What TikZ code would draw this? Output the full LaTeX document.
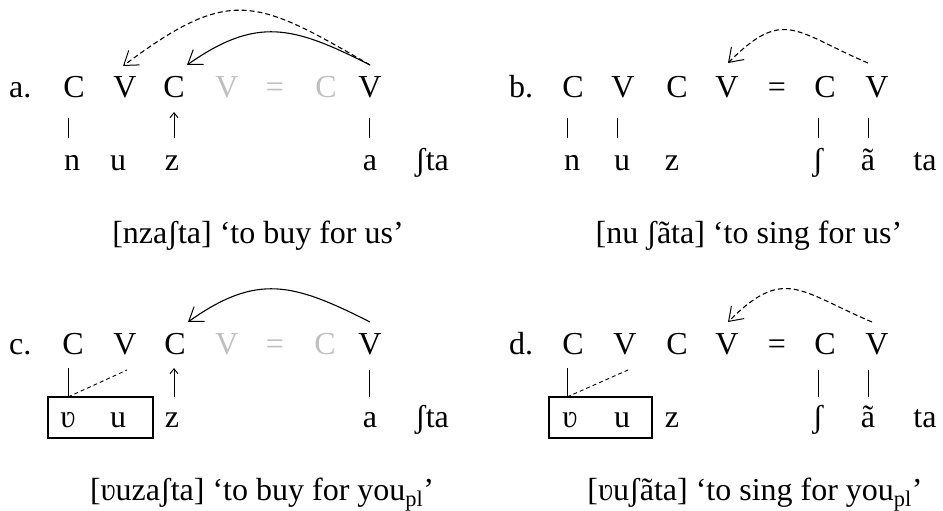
\documentclass[tikz,border=0pt]{standalone}
\usepackage{fontspec}
\setmainfont{Liberation Serif}
\usetikzlibrary{arrows.meta}
\definecolor{faint}{gray}{0.75}
\tikzset{
  seg/.style={anchor=base, inner sep=0pt, font=\fontsize{32}{38}\selectfont},
  lbl/.style={anchor=base west, inner sep=0pt, font=\fontsize{32}{38}\selectfont},
  glosstext/.style={anchor=base, inner sep=0pt, font=\fontsize{32}{38}\selectfont},
  ghost/.style={seg, text=faint},
  assoc/.style={line width=0.9pt},
  delink/.style={line width=0.9pt, dash pattern=on 4pt off 3pt},
  govern/.style={line width=1.1pt, -{Straight Barb[length=13pt,width=18pt,line width=1pt]}},
  licen/.style={line width=1.1pt, dash pattern=on 5pt off 3pt, -{Straight Barb[length=13pt,width=18pt,line width=1pt]}},
  uparr/.style={line width=0.9pt, -{Straight Barb[length=5pt,width=8pt,line width=0.9pt]}},
  morph/.style={draw, line width=1.6pt}
}
\begin{document}
\begin{tikzpicture}[x=1pt,y=-1pt]
\useasboundingbox (0,0) rectangle (943,511);

% ---------------- panel a ----------------
\node[lbl] (la) at (9,97) {a.};
\node[seg] (a1) at (74,97) {C};
\node[seg] (a2) at (125,97) {V};
\node[seg] (a3) at (174,97) {C};
\node[ghost] (a4) at (227,97) {V};
\node[ghost] (a5) at (275,97) {=};
\node[ghost] (a6) at (326,97) {C};
\node[seg] (a7) at (370,97) {V};
\node[seg] (an) at (72,170) {n};
\node[seg] (au) at (118,170) {u};
\node[seg] (az) at (172,170) {z};
\node[seg] (aa) at (370,170) {a};
\node[seg] (ash) at (432,170) {ʃta};
\coordinate (a1b) at (68,118); \coordinate (a1d) at (68,138);
\coordinate (a3b) at (174,112); \coordinate (a3d) at (174,138);
\coordinate (a7b) at (369,118); \coordinate (a7d) at (369,138);
\draw[assoc] (a1b) -- (a1d);
\draw[uparr] (a3d) -- (a3b);
\draw[assoc] (a7b) -- (a7d);
\coordinate (a7t) at (370,65);
\coordinate (a2t) at (123,66);
\coordinate (a3t) at (187,65);
\draw[licen] (a7t) .. controls (255,-2) and (230,-14) .. (a2t);
\draw[govern] (a7t) .. controls (293,26) and (257,16) .. (a3t);
\node[glosstext] (capa) at (258,243) {[nzaʃta] ‘to buy for us’};

% ---------------- panel b ----------------
\node[lbl] (lb) at (509,97) {b.};
\node[seg] (b1) at (573,97) {C};
\node[seg] (b2) at (623,97) {V};
\node[seg] (b3) at (677,97) {C};
\node[seg] (b4) at (727,97) {V};
\node[seg] (b5) at (777,97) {=};
\node[seg] (b6) at (825,97) {C};
\node[seg] (b7) at (877,97) {V};
\node[seg] (bn) at (572,170) {n};
\node[seg] (bu) at (622,170) {u};
\node[seg] (bz) at (672,170) {z};
\node[seg] (bs) at (818,170) {ʃ};
\node[seg] (ba) at (868,170) {ã};
\node[seg] (bt) at (925,170) {ta};
\coordinate (b1b) at (567,118); \coordinate (b1d) at (567,138);
\coordinate (b2b) at (617,118); \coordinate (b2d) at (617,138);
\coordinate (b6b) at (818,118); \coordinate (b6d) at (818,138);
\coordinate (b7b) at (868,118); \coordinate (b7d) at (868,138);
\draw[assoc] (b1b) -- (b1d);
\draw[assoc] (b2b) -- (b2d);
\draw[assoc] (b6b) -- (b6d);
\draw[assoc] (b7b) -- (b7d);
\coordinate (b7t) at (868,63);
\coordinate (b4t) at (728,63);
\draw[licen] (b7t) .. controls (795,32) and (784,7) .. (b4t);
\node[glosstext] (capb) at (749,243) {[nu ʃãta] ‘to sing for us’};

% ---------------- panel c ----------------
\node[lbl] (lc) at (9,354) {c.};
\node[seg] (c1) at (73,354) {C};
\node[seg] (c2) at (125,354) {V};
\node[seg] (c3) at (175,354) {C};
\node[ghost] (c4) at (227,354) {V};
\node[ghost] (c5) at (275,354) {=};
\node[ghost] (c6) at (325,354) {C};
\node[seg] (c7) at (370,354) {V};
\node[seg] (cv) at (68,427) {ʋ};
\node[seg] (cu) at (118,427) {u};
\node[seg] (cz) at (172,427) {z};
\node[seg] (ca) at (370,427) {a};
\node[seg] (csh) at (432,427) {ʃta};
\coordinate (cbox1) at (48,397); \coordinate (cbox2) at (153,438);
\draw[morph] (cbox1) rectangle (cbox2);
\coordinate (c1b) at (68,368); \coordinate (c1d) at (68,397);
\coordinate (c2d) at (127,370);
\coordinate (c3b) at (174,368); \coordinate (c3d) at (174,397);
\coordinate (c7b) at (369,370); \coordinate (c7d) at (369,397);
\draw[assoc] (c1b) -- (c1d);
\draw[delink] (c1d) -- (c2d);
\draw[uparr] (c3d) -- (c3b);
\draw[assoc] (c7b) -- (c7d);
\coordinate (c7t) at (370,322);
\coordinate (c3t) at (188,322);
\draw[govern] (c7t) .. controls (293,283) and (257,273) .. (c3t);
\node[glosstext] (capc) at (262,500) {[ʋuzaʃta] ‘to buy for you\textsubscript{pl}’};

% ---------------- panel d ----------------
\node[lbl] (ld) at (509,354) {d.};
\node[seg] (d1) at (573,354) {C};
\node[seg] (d2) at (625,354) {V};
\node[seg] (d3) at (677,354) {C};
\node[seg] (d4) at (727,354) {V};
\node[seg] (d5) at (777,354) {=};
\node[seg] (d6) at (825,354) {C};
\node[seg] (d7) at (877,354) {V};
\node[seg] (dv) at (570,427) {ʋ};
\node[seg] (du) at (622,427) {u};
\node[seg] (dz) at (672,427) {z};
\node[seg] (ds) at (818,427) {ʃ};
\node[seg] (da) at (868,427) {ã};
\node[seg] (dt) at (925,427) {ta};
\coordinate (dbox1) at (549,397); \coordinate (dbox2) at (652,438);
\draw[morph] (dbox1) rectangle (dbox2);
\coordinate (d1b) at (567,368); \coordinate (d1d) at (567,397);
\coordinate (d2d) at (628,370);
\coordinate (d6b) at (818,370); \coordinate (d6d) at (818,397);
\coordinate (d7b) at (868,370); \coordinate (d7d) at (868,397);
\draw[assoc] (d1b) -- (d1d);
\draw[delink] (d1d) -- (d2d);
\draw[assoc] (d6b) -- (d6d);
\draw[assoc] (d7b) -- (d7d);
\coordinate (d7t) at (872,322);
\coordinate (d4t) at (728,322);
\draw[licen] (d7t) .. controls (799,291) and (784,266) .. (d4t);
\node[glosstext] (capd) at (755,500) {[ʋuʃãta] ‘to sing for you\textsubscript{pl}’};
\end{tikzpicture}
\end{document}
